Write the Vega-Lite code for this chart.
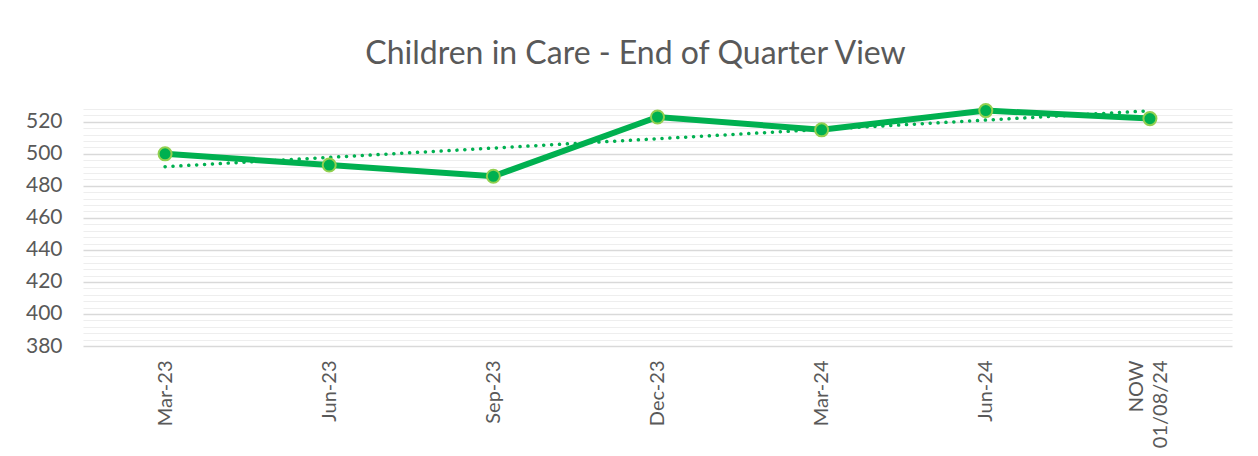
{
  "$schema": "https://vega.github.io/schema/vega-lite/v6.json",
  "width": 1149,
  "height": 237,
  "autosize": "none",
  "padding": {"left": 83, "top": 109, "right": 26, "bottom": 110},
  "background": "white",
  "config": {"view": {"stroke": null}, "font": "Lato"},
  "title": {
    "text": "Children in Care - End of Quarter View",
    "font": "Lato",
    "fontSize": 32,
    "fontWeight": "normal",
    "color": "#595959",
    "anchor": "middle",
    "frame": "group",
    "dx": -22,
    "offset": 28
  },
  "data": {
    "values": [
      {"q": "Mar-23", "v": 500},
      {"q": "Jun-23", "v": 493},
      {"q": "Sep-23", "v": 486},
      {"q": "Dec-23", "v": 523},
      {"q": "Mar-24", "v": 515},
      {"q": "Jun-24", "v": 527},
      {"q": "NOW 01/08/24", "v": 522}
    ]
  },
  "encoding": {
    "y": {
      "field": "v", "type": "quantitative",
      "scale": {"domain": [380, 528], "nice": false, "zero": false},
      "axis": {
        "title": null,
        "values": [380,384,388,392,396,400,404,408,412,416,420,424,428,432,436,440,444,448,452,456,460,464,468,472,476,480,484,488,492,496,500,504,508,512,516,520,524,528],
        "labelExpr": "datum.value % 20 === 0 ? datum.label : ''",
        "labelFontSize": 21, "labelColor": "#595959", "labelPadding": 21,
        "ticks": false, "domain": false,
        "grid": true,
        "gridColor": {"condition": {"test": "datum.value % 20 === 0", "value": "#d9d9d9"}, "value": "#eeeeee"},
        "gridWidth": {"condition": {"test": "datum.value % 20 === 0", "value": 1.5}, "value": 1.2}
      }
    }
  },
  "layer": [
    {
      "transform": [
        {"window": [{"op": "row_number", "as": "idx"}]},
        {"regression": "v", "on": "idx"}
      ],
      "mark": {"type": "line", "color": "#00b050", "strokeWidth": 3.5, "strokeDash": [0.1, 7.8], "strokeCap": "round"},
      "encoding": {
        "x": {"field": "idx", "type": "quantitative", "scale": {"domain": [0.5, 7.5]}, "axis": null}
      }
    },
    {
      "encoding": {
        "x": {
          "field": "q", "type": "nominal", "sort": null,
          "axis": {
            "title": null, "labelAngle": -90, "labelFontSize": 20, "labelColor": "#595959",
            "ticks": false, "domain": false, "grid": false, "labelPadding": 14,
            "labelExpr": "split(datum.label, ' ')", "labelLineHeight": 24,
            "labelOffset": {"condition": {"test": "datum.value === 'NOW 01/08/24'", "value": -13}, "value": 0}
          }
        }
      },
      "layer": [
        {"mark": {"type": "line", "color": "#00b050", "strokeWidth": 6}},
        {"mark": {"type": "point", "filled": true, "fill": "#00b050", "stroke": "#92d050", "strokeWidth": 2, "size": 170, "opacity": 1}}
      ]
    }
  ],
  "resolve": {"scale": {"x": "independent"}}
}
